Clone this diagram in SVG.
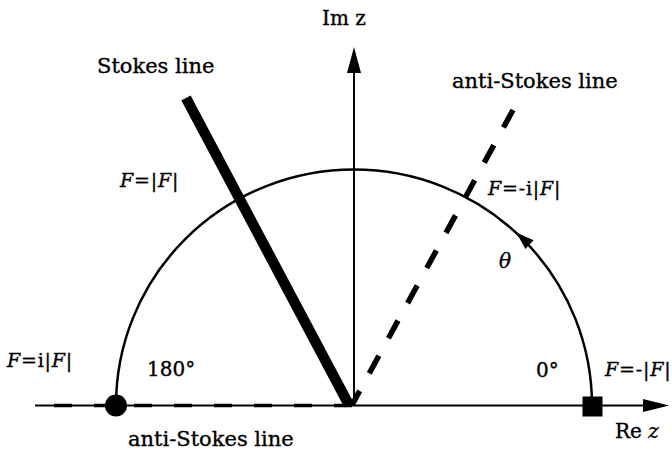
<svg xmlns="http://www.w3.org/2000/svg" width="672" height="451" viewBox="0 0 672 451">
<style>
text{font-family:"DejaVu Serif","Liberation Serif",serif;fill:#000;stroke:#000;stroke-width:0.35}
.lbl{font-size:21px}
.sm{font-size:20px}
.f{font-size:19px;letter-spacing:0.8px}
.it{font-style:italic}
.ln{fill:none;stroke:#000}
</style>
<rect width="672" height="451" fill="#fff"/>
<g id="connectors">
  <line class="ln" x1="35" y1="405.5" x2="645" y2="405.5" stroke-width="2"/>
  <polygon points="669,405.5 643,399 643,412" fill="#000"/>
  <line class="ln" x1="352" y1="405.5" x2="35" y2="405.5" stroke-width="3.5" stroke-dasharray="18 22"/>
  <line class="ln" x1="354" y1="405.5" x2="354" y2="70" stroke-width="2"/>
  <polygon points="354,47 347,73 361,73" fill="#000"/>
  <path class="ln" d="M116,405.5 A238,236 0 0 1 592,405.5" stroke-width="2.5"/>
  <polygon points="516.3,232.5 533.6,240.3 525.4,249.1" fill="#000"/>
  <line class="ln" x1="186" y1="98" x2="349" y2="405" stroke-width="10.5"/>
  <line class="ln" x1="513" y1="110" x2="352" y2="405" stroke-width="5.5" stroke-dasharray="20 20"/>
</g>
<g id="node-minus-inf">
  <circle cx="116" cy="405.5" r="11" fill="#000"/>
</g>
<g id="node-zero">
  <rect x="582.5" y="396.5" width="20" height="20" fill="#000"/>
</g>
<g id="labels">
  <text class="sm" x="322" y="25">Im z</text>
  <text class="sm" x="615" y="438">Re <tspan class="it">z</tspan></text>
  <text class="lbl" x="97" y="73">Stokes line</text>
  <text class="lbl" x="452" y="88">anti-Stokes line</text>
  <text class="lbl" x="128" y="446">anti-Stokes line</text>
  <text class="sm" x="147" y="376">180°</text>
  <text class="sm" x="536" y="377">0°</text>
  <text class="sm it" x="499" y="268">θ</text>
  <text class="f" x="120" y="187"><tspan class="it">F</tspan>=|<tspan class="it">F</tspan>|</text>
  <text class="f" x="488" y="195"><tspan class="it">F</tspan>=-i|<tspan class="it">F</tspan>|</text>
  <text class="f" x="7" y="367"><tspan class="it">F</tspan>=i|<tspan class="it">F</tspan>|</text>
  <text class="f" x="605" y="376"><tspan class="it">F</tspan>=-|<tspan class="it">F</tspan>|</text>
</g>
</svg>
